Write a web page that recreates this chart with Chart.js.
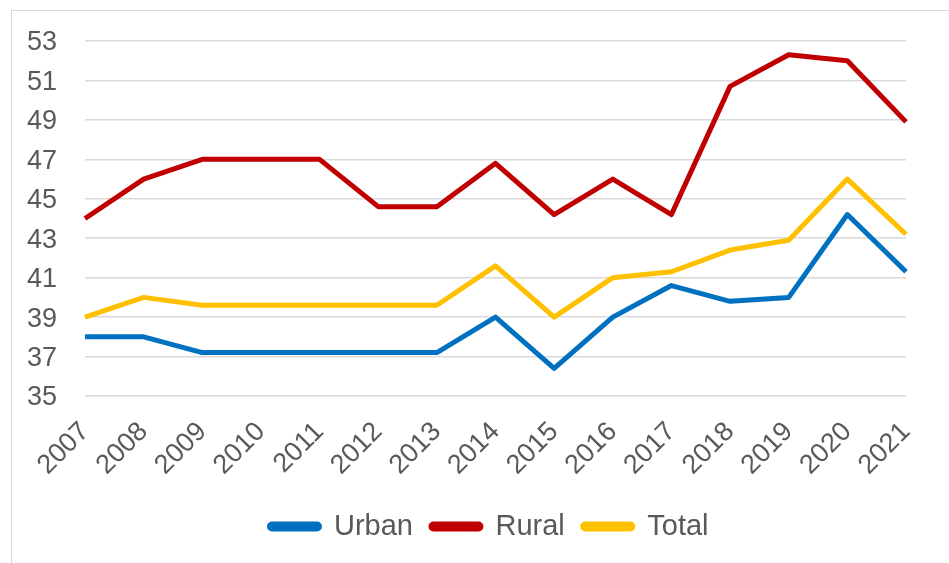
<!DOCTYPE html>
<html>
<head>
<meta charset="utf-8">
<script src="https://cdn.jsdelivr.net/npm/chart.js@4/dist/chart.umd.min.js"></script>
<style>
  html, body { margin: 0; padding: 0; background: #fff; }
  #wrap { position: relative; width: 949px; height: 563px; overflow: hidden; }
  #frame {
    position: absolute; left: 11px; top: 10px; width: 1000px; height: 600px;
    border-left: 1.5px solid #d9d9d9; border-top: 1.5px solid #d9d9d9;
  }
  canvas { position: absolute; left: 0; top: 0; }
</style>
</head>
<body>
<div id="wrap">
  <div id="frame"></div>
  <canvas id="chart" width="949" height="563"></canvas>
</div>
<script>
const years = ["2007", "2008", "2009", "2010", "2011", "2012", "2013", "2014",
  "2015", "2016", "2017", "2018", "2019", "2020", "2021"];
const urban = [38.0, 38.0, 37.2, 37.2, 37.2, 37.2, 37.2, 39.0, 36.4, 39.0, 40.6, 39.8, 40.0, 44.2, 41.3];
const rural = [44.0, 46.0, 47.0, 47.0, 47.0, 44.6, 44.6, 46.8, 44.2, 46.0, 44.2, 50.7, 52.3, 52.0, 48.9];
const total = [39.0, 40.0, 39.6, 39.6, 39.6, 39.6, 39.6, 41.6, 39.0, 41.0, 41.3, 42.4, 42.9, 46.0, 43.2];

const textColor = "#595959";
const fontFamily = "'Liberation Sans', Arial, sans-serif";

function series(label, data, color) {
  return {
    label, data,
    borderColor: color,
    backgroundColor: color,
    borderWidth: 5,
    borderJoinStyle: "round",
    pointRadius: 0,
    tension: 0,
  };
}

// centre the legend under the whole frame rather than the plot
const shiftLegend = {
  id: "shiftLegend",
  afterLayout(chart) {
    chart.legend.left = 72;
  },
};

new Chart(document.getElementById("chart"), {
  type: "line",
  data: {
    labels: years,
    datasets: [
      series("Urban", urban, "#0070C0"),
      series("Rural", rural, "#C00000"),
      series("Total", total, "#FFC000"),
    ],
  },
  plugins: [shiftLegend],
  options: {
    responsive: false,
    animation: false,
    layout: { padding: { top: 41, right: 43, bottom: 12, left: 0 } },
    plugins: {
      tooltip: { enabled: false },
      legend: {
        position: "bottom",
        labels: {
          color: textColor,
          font: { family: fontFamily, size: 29 },
          boxWidth: 50,
          boxHeight: 5,
          useBorderRadius: true,
          borderRadius: 2.5,
          padding: 18,
        },
      },
    },
    scales: {
      x: {
        grid: { display: false },
        border: { display: false },
        offset: false,
        ticks: {
          color: textColor,
          font: { family: fontFamily, size: 27 },
          minRotation: 45,
          maxRotation: 45,
          padding: 12,
        },
        afterFit: (scale) => { scale.height = 98; },
      },
      y: {
        min: 35,
        max: 53,
        grid: { color: "#d9d9d9", lineWidth: 1.5, drawTicks: false },
        border: { display: false },
        ticks: {
          stepSize: 2,
          color: textColor,
          font: { family: fontFamily, size: 27 },
          padding: 28,
          labelOffset: 2,
        },
        afterFit: (scale) => {
          scale.width = 85;
          scale.paddingTop = 0;
          scale.paddingBottom = 0;
        },
      },
    },
  },
});
</script>
</body>
</html>
